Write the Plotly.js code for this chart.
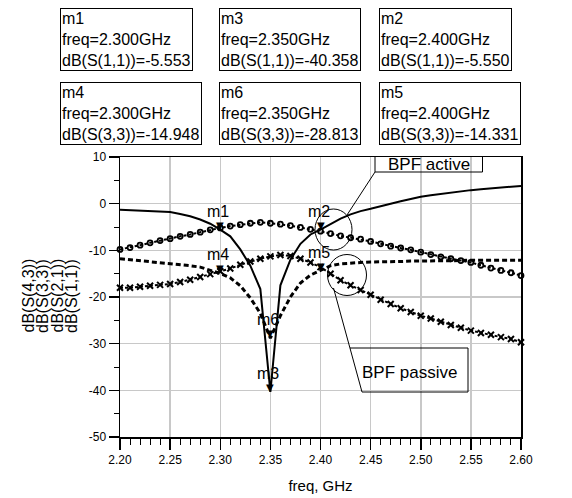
<!DOCTYPE html>
<html>
<head>
<meta charset="utf-8">
<script src="https://cdn.plot.ly/plotly-3.0.1.min.js"></script>
<style>
html,body{margin:0;padding:0;background:#fff;}
#chart{width:572px;height:498px;}
</style>
</head>
<body>
<div id="chart"></div>
<script>
// ---- data ----
var freq = [2.20,2.21,2.22,2.23,2.24,2.25,2.26,2.27,2.28,2.29,2.30,
            2.31,2.32,2.33,2.34,2.35,2.36,2.37,2.38,2.39,2.40,
            2.41,2.42,2.43,2.44,2.45,2.46,2.47,2.48,2.49,2.50,
            2.51,2.52,2.53,2.54,2.55,2.56,2.57,2.58,2.59,2.60];
var s11 = [-1.3,-1.4,-1.5,-1.6,-1.7,-1.8,-2.2,-2.7,-3.4,-4.3,-5.553,
           -7.0,-9.8,-13.3,-18.3,-40.358,-17.5,-12.0,-8.6,-6.6,-5.550,
           -4.3,-3.2,-2.3,-1.6,-1.1,-0.5,0.0,0.5,1.0,1.5,
           1.8,2.1,2.4,2.7,2.9,3.1,3.3,3.5,3.6,3.8];
var s33 = [-11.8,-12.0,-12.2,-12.4,-12.6,-12.8,-13.1,-13.3,-13.6,-14.2,-14.948,
           -15.9,-17.6,-20.2,-23.5,-28.813,-24.0,-20.0,-17.0,-15.3,-14.331,
           -13.3,-12.9,-12.7,-12.6,-12.5,-12.5,-12.4,-12.4,-12.3,-12.3,
           -12.3,-12.2,-12.2,-12.2,-12.1,-12.1,-12.1,-12.1,-12.1,-12.1];
var s21 = [-9.8,-9.4,-8.9,-8.4,-7.9,-7.5,-7.0,-6.6,-6.1,-5.6,-5.2,
           -4.8,-4.5,-4.2,-4.0,-4.2,-4.4,-4.7,-5.1,-5.5,-5.9,
           -6.4,-6.9,-7.3,-7.6,-8.1,-8.6,-9.1,-9.5,-9.9,-10.4,
           -10.9,-11.4,-11.8,-12.2,-12.6,-13.2,-13.8,-14.3,-14.8,-15.4];
var s43 = [-18.0,-18.0,-17.8,-17.6,-17.4,-17.2,-16.8,-16.3,-15.7,-15.1,-14.5,
           -13.9,-13.1,-12.4,-11.8,-11.3,-11.0,-11.2,-11.8,-12.6,-13.6,
           -15.0,-16.4,-17.5,-18.5,-19.5,-20.6,-21.5,-22.4,-23.2,-24.0,
           -24.6,-25.3,-26.0,-26.6,-27.2,-27.7,-28.1,-28.6,-29.0,-29.7];

var mkNames = ['m1','m3','m2','m4','m6','m5'];
var mkParam = ['S(1,1)','S(1,1)','S(1,1)','S(3,3)','S(3,3)','S(3,3)'];
var mkFreq  = [2.300, 2.350, 2.400, 2.300, 2.350, 2.400];
var mkVal   = [-5.553, -40.358, -5.550, -14.948, -28.813, -14.331];

var yTitleLines = ['dB(S(4,3))','dB(S(3,3))','dB(S(2,1))','dB(S(1,1))'];
var xTickVals = [2.20,2.25,2.30,2.35,2.40,2.45,2.50,2.55,2.60];
var xTickText = ['2.20','2.25','2.30','2.35','2.40','2.45','2.50','2.55','2.60'];
var yTickVals = [10,0,-10,-20,-30,-40,-50];
var yTickText = ['10','0','-10','-20','-30','-40','-50'];

// ---- layout helpers (pixel -> paper for decorations) ----
var L = 120, R = 521, T = 157, B = 437;
function px(x){ return (x - L) / (R - L); }
function py(y){ return (B - y) / (B - T); }
var FONT = 'Liberation Sans, Arial, Helvetica, sans-serif';

var traces = [
  {x: freq, y: s11, mode: 'lines', name: 'dB(S(1,1))',
   line: {color: '#000', width: 2}, cliponaxis: false},
  {x: freq, y: s33, mode: 'lines', name: 'dB(S(3,3))',
   line: {color: '#000', width: 3, dash: '5px,3px'}, cliponaxis: false},
  {x: freq, y: s21, mode: 'lines+markers', name: 'dB(S(2,1))',
   line: {color: '#000', width: 2, dash: '3px,2px'},
   marker: {symbol: 'circle-open', size: 5, color: '#000', line: {color: '#000', width: 1.8}},
   cliponaxis: false},
  {x: freq, y: s43, mode: 'lines+markers', name: 'dB(S(4,3))',
   line: {color: '#000', width: 2, dash: '3px,2px'},
   marker: {symbol: 'x-thin', size: 6, color: '#000', line: {color: '#000', width: 2}},
   cliponaxis: false}
];

var annotations = [];
// marker boxes
var boxLeft = [60, 219, 379, 60, 219, 379];
var boxTop  = [8, 8, 8, 82, 82, 82];
for (var i = 0; i < mkNames.length; i++) {
  annotations.push({
    xref: 'paper', yref: 'paper', x: px(boxLeft[i]), y: py(boxTop[i]),
    xanchor: 'left', yanchor: 'top', showarrow: false, align: 'left',
    text: mkNames[i] + '<br>freq=' + mkFreq[i].toFixed(3) + 'GHz<br>dB(' + mkParam[i] + ')=' + mkVal[i].toFixed(3),
    font: {family: FONT, size: 16, color: '#000'},
    bordercolor: '#000', borderwidth: 1, borderpad: 1, bgcolor: '#fff'
  });
  // triangle marker
  annotations.push({
    x: mkFreq[i], y: mkVal[i], xref: 'x', yref: 'y', showarrow: false,
    text: '\u25BC', xanchor: 'center', yanchor: 'bottom', yshift: -3,
    font: {family: 'DejaVu Sans', size: 10, color: '#000'}
  });
  // label
  annotations.push({
    x: mkFreq[i], y: mkVal[i], xref: 'x', yref: 'y', showarrow: false,
    text: mkNames[i], xanchor: 'center', yanchor: 'middle', yshift: 18.5, xshift: -2,
    font: {family: FONT, size: 16, color: '#000'}
  });
}
// y axis title lines
var yTitleX = [27.5, 42, 56.5, 71];
for (var j = 0; j < yTitleLines.length; j++) {
  annotations.push({
    xref: 'paper', yref: 'paper', x: px(yTitleX[j]), y: py(296),
    xanchor: 'center', yanchor: 'middle', showarrow: false, textangle: -90,
    text: yTitleLines[j], font: {family: FONT, size: 16, color: '#000'}
  });
}
// callout labels
annotations.push({
  xref: 'paper', yref: 'paper', x: px(429), y: py(164.7), xanchor: 'center', yanchor: 'middle',
  showarrow: false, text: 'BPF active', font: {family: FONT, size: 17, color: '#000'}
});
annotations.push({
  xref: 'paper', yref: 'paper', x: px(409.5), y: py(372.4), xanchor: 'center', yanchor: 'middle',
  showarrow: false, text: 'BPF passive', font: {family: FONT, size: 17, color: '#000'}
});

var ln = {color: '#000', width: 1};
var shapes = [
  {type: 'circle', xref: 'paper', yref: 'paper', x0: px(315), x1: px(352), y0: py(209), y1: py(250), line: ln},
  {type: 'circle', xref: 'paper', yref: 'paper', x0: px(327.5), x1: px(366.5), y0: py(254.5), y1: py(295.5), line: ln},
  {type: 'rect', xref: 'paper', yref: 'paper', x0: px(375), x1: px(482.5), y0: py(156.5), y1: py(172), line: ln},
  {type: 'line', xref: 'paper', yref: 'paper', x0: px(375), y0: py(172), x1: px(347), y1: py(215), line: ln},
  {type: 'path', xref: 'paper', yref: 'paper', line: ln,
   path: 'M' + px(333.5) + ',' + py(288) + ' L' + px(362) + ',' + py(392) + ' L' + px(468) + ',' + py(392) +
         ' L' + px(468) + ',' + py(348) + ' L' + px(350) + ',' + py(348)}
];

var axisCommon = {
  showgrid: true, gridcolor: '#c8c8c8', gridwidth: 1.5,
  showline: true, linecolor: '#000', linewidth: 1.5, mirror: true,
  ticks: 'outside', tickcolor: '#000', tickwidth: 1.5,
  zeroline: false, tickfont: {family: FONT, size: 12, color: '#000'}
};

var layout = {
  width: 572, height: 498,
  margin: {l: L, r: 572 - R, t: T, b: 498 - B, pad: 0},
  paper_bgcolor: '#fff', plot_bgcolor: '#fff', showlegend: false,
  font: {family: FONT, color: '#000'},
  xaxis: Object.assign({}, axisCommon, {
    range: [2.2, 2.6], tickmode: 'array', tickvals: xTickVals, ticktext: xTickText,
    ticklen: 11,
    minor: {dtick: 0.01, tick0: 2.2, ticks: 'outside', ticklen: 6, tickcolor: '#000', tickwidth: 1, showgrid: false},
    title: {text: 'freq, GHz', font: {family: FONT, size: 15, color: '#000'}, standoff: 14}
  }),
  yaxis: Object.assign({}, axisCommon, {
    range: [-50, 10], tickmode: 'array', tickvals: yTickVals, ticktext: yTickText,
    ticklen: 10,
    minor: {dtick: 5, tick0: 0, ticks: 'outside', ticklen: 5, tickcolor: '#000', tickwidth: 1, showgrid: false}
  }),
  annotations: annotations,
  shapes: shapes
};

Plotly.newPlot('chart', traces, layout, {displayModeBar: false, staticPlot: true});
</script>
</body>
</html>
